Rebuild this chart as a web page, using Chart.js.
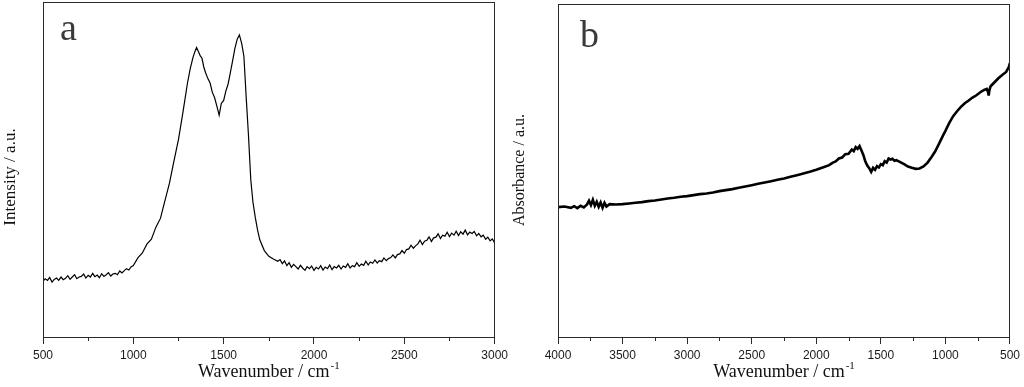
<!DOCTYPE html>
<html>
<head>
<meta charset="utf-8">
<script src="https://cdn.jsdelivr.net/npm/chart.js@4.4.1/dist/chart.umd.min.js"></script>
<style>
  html, body { margin: 0; padding: 0; background: #ffffff; }
  #wrap { position: relative; width: 1024px; height: 387px; overflow: hidden; }
  canvas { position: absolute; top: 0; }
  #ca { left: 0; }
  #cb { left: 512px; }
</style>
</head>
<body>
<div id="wrap">
  <canvas id="ca" width="512" height="387"></canvas>
  <canvas id="cb" width="512" height="387"></canvas>
</div>
<script>
// ---------- Panel a : Raman-like spectrum ----------
const wavenumberA = [500,512,525,537,550,562,575,587,600,612,625,637,650,662,675,687,700,712,725,737,750,762,775,787,800,812,825,837,850,862,875,887,900,912,925,937,950,962,975,987,
  1000,1025,1050,1075,1100,1125,1150,1175,1200,1225,1250,1275,1300,1315,1330,1340,1350,1360,1370,1380,1390,1400,1412,1425,1437,1450,1462,1475,1487,
  1500,1512,1525,1537,1550,1562,1575,1587,1600,1612,1625,1637,1650,1662,1675,1687,1700,1725,1750,1775,1800,1812,1825,1837,1850,1862,1875,1887,1900,1912,1925,1937,1950,1962,1975,1987,
  2000,2012,2025,2037,2050,2062,2075,2087,2100,2112,2125,2137,2150,2162,2175,2187,2200,2212,2225,2237,2250,2262,2275,2287,2300,2312,2325,2337,2350,2362,2375,2387,2400,2412,2425,2437,2450,2462,2475,2487,
  2500,2512,2525,2537,2550,2562,2575,2587,2600,2612,2625,2637,2650,2662,2675,2687,2700,2712,2725,2737,2750,2762,2775,2787,2800,2812,2825,2837,2850,2862,2875,2887,2900,2912,2925,2937,2950,2962,2975,2987,3000];
const intensityA = [16.6,17.4,16.9,17.8,16.4,17.2,17.6,16.9,17.9,17.1,17.5,18.3,17.2,17.9,18.6,17.4,17.9,18.1,18.8,17.6,18.4,17.9,19.0,18.0,18.5,17.7,18.9,18.1,18.6,19.2,18.2,18.8,19.0,18.6,19.7,19.1,19.8,20.4,20.0,20.9,
  21.3,23.6,25.1,27.7,29.2,32.8,35.4,40.7,45.9,52.6,59.0,67.2,75.9,80.1,83.4,85.1,86.4,85.2,84.0,83.2,80.6,78.9,77.2,75.8,73.1,71.4,69.0,66.2,69.7,
  70.6,73.4,75.6,78.9,82.6,86.1,88.9,90.2,87.6,83.8,71.3,60.5,47.0,40.3,35.7,32.1,29.0,25.8,24.1,23.3,22.6,23.1,21.9,22.7,21.3,22.2,20.8,21.7,21.0,20.3,21.4,20.6,19.9,21.0,20.4,21.2,
  19.9,20.8,20.3,21.3,20.0,20.9,20.4,21.5,20.1,21.0,20.6,21.4,20.3,21.2,20.8,21.9,20.6,21.3,21.0,22.2,21.1,21.8,21.4,22.6,21.5,22.4,22.0,23.0,22.1,22.8,22.5,23.6,22.8,23.4,23.7,24.5,23.6,24.6,24.8,25.8,
  25.0,26.1,26.3,27.4,26.5,27.2,27.8,28.9,27.6,28.6,28.9,29.9,28.5,29.6,29.8,30.8,29.4,30.4,30.1,31.3,30.0,31.0,30.4,31.6,30.3,31.4,30.7,31.9,30.5,31.3,30.9,31.5,30.2,30.9,29.9,30.4,29.2,29.8,28.7,29.3,28.1];
const ticksA = [500,1000,1500,2000,2500,3000];

// ---------- Panel b : IR absorbance spectrum ----------
const wavenumberB = [4000,3950,3900,3875,3850,3825,3800,3775,3760,3745,3730,3715,3700,3685,3670,3655,3640,3625,3600,
  3550,3500,3450,3400,3350,3300,3250,3200,3150,3100,3050,3000,2950,2900,2850,2800,2750,2700,2650,2600,2550,
  2500,2450,2400,2350,2300,2250,2200,2150,2100,2050,2000,1950,1900,1875,1850,1825,1800,1775,1750,1725,
  1710,1695,1680,1665,1650,1635,1620,1605,1590,1575,1560,1545,1530,1515,1500,1485,1470,1455,1440,1425,
  1410,1395,1380,1350,1320,1290,1260,1230,1200,1170,1140,1110,1080,1050,1020,1000,970,940,910,880,
  850,820,790,760,730,700,680,670,665,660,650,620,590,560,530,510,500];
const absorbanceB = [39.0,39.2,38.8,39.3,38.7,39.4,38.9,39.8,40.9,39.6,41.2,39.4,40.6,39.1,40.4,38.8,40.3,39.2,39.9,
  39.8,39.9,40.1,40.3,40.5,40.8,41.0,41.3,41.6,41.8,42.1,42.3,42.6,42.9,43.1,43.4,43.8,44.1,44.4,44.8,45.2,
  45.6,46.0,46.4,46.8,47.2,47.6,48.1,48.6,49.1,49.6,50.2,50.9,51.6,52.3,52.7,53.6,53.9,54.9,55.0,56.3,
  55.8,57.0,56.5,57.3,56.0,54.6,52.7,51.5,50.7,49.6,50.8,50.2,51.3,50.9,51.9,51.6,52.8,52.4,53.6,53.3,
  53.5,52.9,53.1,52.5,51.9,51.2,50.8,50.5,50.6,51.2,52.3,53.9,55.7,58.0,60.4,61.9,64.3,66.3,67.8,69.1,
  70.2,71.0,71.9,72.6,73.5,74.2,74.5,73.6,72.5,74.0,75.3,76.5,77.7,78.7,79.6,81.0,82.3];
const ticksB = [4000,3500,3000,2500,2000,1500,1000,500];

// ---------- texts ----------
const xTitleMain = 'Wavenumber / cm';
const xTitleSup = '-1';
const yTitleA = 'Intensity / a.u.';
const yTitleB = 'Absorbance / a.u.';
const panelLabelA = 'a';
const panelLabelB = 'b';

function makePoints(xs, ys) {
  return xs.map((x, i) => ({ x: x, y: ys[i] }));
}

function decorPlugin(opts) {
  return {
    id: 'decor',
    afterDraw(chart) {
      const ctx = chart.ctx;
      const a = chart.chartArea;
      const xs = chart.scales.x;
      ctx.save();
      // frame
      ctx.strokeStyle = '#2a2a2a';
      ctx.lineWidth = 1;
      ctx.strokeRect(Math.round(a.left) + 0.5, Math.round(a.top) + 0.5,
        Math.round(a.right) - Math.round(a.left) - 1, Math.round(a.bottom) - Math.round(a.top));
      // minor ticks
      ctx.beginPath();
      for (let v = xs.min + 250; v < xs.max; v += 500) {
        const px = Math.round(xs.getPixelForValue(v)) + 0.5;
        ctx.moveTo(px, Math.round(a.bottom));
        ctx.lineTo(px, Math.round(a.bottom) + 4);
      }
      ctx.stroke();
      // x title with superscript
      ctx.fillStyle = '#111';
      ctx.font = '18px "Liberation Serif"';
      const wMain = ctx.measureText(xTitleMain).width;
      ctx.font = '11px "Liberation Serif"';
      const wSup = ctx.measureText(xTitleSup).width;
      const cx = (a.left + a.right) / 2;
      const startX = cx - (wMain + wSup + 1) / 2;
      ctx.textAlign = 'left';
      ctx.textBaseline = 'alphabetic';
      ctx.font = '18px "Liberation Serif"';
      ctx.fillText(xTitleMain, startX, 377);
      ctx.font = '11px "Liberation Serif"';
      ctx.fillText(xTitleSup, startX + wMain + 1, 369);
      // y title
      ctx.save();
      ctx.translate(opts.yTitleX, opts.yTitleY);
      ctx.rotate(-Math.PI / 2);
      ctx.textAlign = 'center';
      ctx.font = opts.yTitleFont;
      ctx.fillText(opts.yTitle, 0, 0);
      ctx.restore();
      // panel label
      ctx.fillStyle = '#3a3a3a';
      ctx.font = '38px "Liberation Serif"';
      ctx.textAlign = 'left';
      ctx.fillText(opts.label, opts.labelX, opts.labelY);
      ctx.restore();
    }
  };
}

function makeChart(id, xs, ys, cfg) {
  return new Chart(document.getElementById(id), {
    type: 'scatter',
    data: {
      datasets: [{
        data: makePoints(xs, ys),
        showLine: true,
        borderColor: '#000000',
        borderWidth: cfg.lineWidth,
        pointRadius: 0,
        tension: 0,
        fill: false
      }]
    },
    options: {
      responsive: false,
      animation: false,
      devicePixelRatio: 1,
      layout: { padding: { top: cfg.padTop, right: cfg.padRight, left: 0, bottom: 0 } },
      plugins: { legend: { display: false }, tooltip: { enabled: false } },
      scales: {
        x: {
          type: 'linear',
          min: cfg.xmin, max: cfg.xmax,
          reverse: cfg.reverse,
          afterBuildTicks: (s) => { s.ticks = cfg.ticks.map(v => ({ value: v })); },
          ticks: {
            autoSkip: false,
            maxRotation: 0,
            padding: 4,
            color: '#1a1a1a',
            font: { family: '"Liberation Sans"', size: 12 },
            callback: (v) => String(v)
          },
          grid: { display: true, drawOnChartArea: false, drawTicks: true, tickLength: 7, color: '#2a2a2a', lineWidth: 1 },
          border: { display: false },
          afterFit: (s) => { s.height = 50; }
        },
        y: {
          min: 0, max: 100,
          ticks: { display: false },
          grid: { display: false },
          border: { display: false },
          afterFit: (s) => { s.width = cfg.yWidth; }
        }
      }
    },
    plugins: [decorPlugin(cfg)]
  });
}

makeChart('ca', wavenumberA, intensityA, {
  lineWidth: 1.2, padTop: 2, padRight: 16, yWidth: 43,
  xmin: 500, xmax: 3000, reverse: false, ticks: ticksA,
  yTitle: yTitleA, yTitleX: 15, yTitleY: 177, yTitleFont: '17px "Liberation Serif"',
  label: panelLabelA, labelX: 60, labelY: 40
});

makeChart('cb', wavenumberB, absorbanceB, {
  lineWidth: 2.6, padTop: 4, padRight: 12, yWidth: 46,
  xmin: 500, xmax: 4000, reverse: true, ticks: ticksB,
  yTitle: yTitleB, yTitleX: 12, yTitleY: 170, yTitleFont: '16px "Liberation Serif"',
  label: panelLabelB, labelX: 68, labelY: 47
});
</script>
</body>
</html>
